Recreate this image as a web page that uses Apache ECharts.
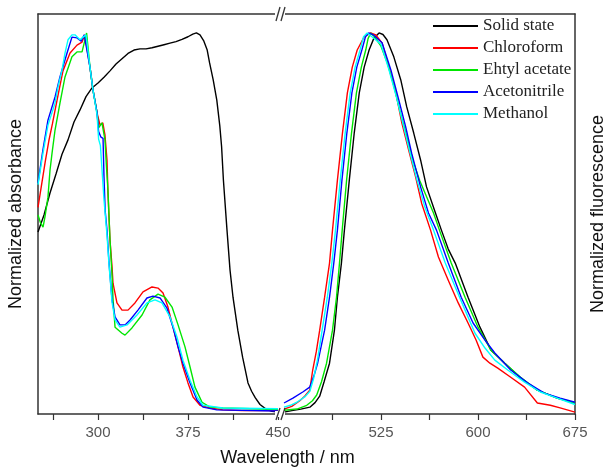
<!DOCTYPE html>
<html><head><meta charset="utf-8">
<script src="https://cdn.jsdelivr.net/npm/echarts@6/dist/echarts.min.js"></script>
<style>html,body{margin:0;padding:0;background:#fff}#c{width:608px;height:468px}</style>
</head><body><div id="c"></div>
<script>
const seriesNames = ['Solid state','Chloroform','Ehtyl acetate','Acetonitrile','Methanol'];
const seriesColors = ['#000000','#ff0000','#00e600','#0000ff','#00ffff'];
const absTicks = [262.5,300,337.5,375,412.5,450];
const absLabels = [300,375,450];
const flTicks = [487.5,525,562.5,600,637.5,675];
const flLabels = [525,600,675];

const solidAbs = [[250,0.475],[255,0.52],[260,0.578],[265,0.628],[270,0.68],[275,0.718],[280,0.765],[285,0.797],[290,0.832],[295,0.855],[300,0.868],[305,0.883],[310,0.9],[315,0.918],[320,0.932],[325,0.946],[330,0.955],[335,0.958],[340,0.958],[345,0.961],[350,0.965],[355,0.969],[360,0.973],[365,0.977],[370,0.983],[375,0.99],[379,0.997],[382,1.0],[385,0.995],[388,0.98],[391,0.955],[393,0.921],[396,0.876],[399,0.823],[401.5,0.755],[403,0.70],[404.5,0.612],[407.5,0.48],[410,0.375],[412.5,0.303],[416.5,0.216],[420.5,0.145],[425,0.077],[428,0.055],[431,0.038],[435,0.02],[440,0.008],[445,0.002],[450,0.0]];
const redAbs = [[250,0.54],[253,0.6],[256,0.66],[259,0.715],[262,0.76],[266,0.825],[270.8,0.9],[276.7,0.947],[282.5,0.968],[286.7,0.976],[289,0.995],[290,1.0],[293.3,0.91],[295.8,0.85],[299.2,0.789],[301.7,0.757],[304,0.763],[305.8,0.731],[307.5,0.665],[308.3,0.578],[310,0.454],[311.7,0.383],[312.5,0.34],[315.8,0.288],[320,0.269],[325,0.269],[330.8,0.288],[337.5,0.317],[345,0.33],[350,0.327],[354.2,0.314],[358.3,0.277],[362.5,0.224],[366.7,0.172],[370.8,0.119],[375,0.077],[379.2,0.04],[385,0.018],[393,0.011],[404,0.006],[420,0.004],[450,0.004]];
const greenAbs = [[250,0.52],[252,0.5],[254.2,0.488],[255.8,0.515],[258.3,0.567],[260,0.638],[261.7,0.683],[264.2,0.744],[268.3,0.815],[272.5,0.884],[278.3,0.937],[282.5,0.95],[286.7,0.95],[289,0.98],[290.5,1.0],[293.3,0.91],[295.8,0.85],[299.2,0.79],[300.5,0.75],[303.3,0.763],[305.8,0.718],[307,0.65],[308.3,0.586],[310,0.454],[311.7,0.36],[312.5,0.3],[314.2,0.224],[320,0.208],[322.5,0.203],[328.3,0.222],[336.7,0.256],[343.3,0.296],[350,0.311],[355.8,0.303],[361.7,0.277],[366.7,0.23],[372.5,0.172],[376.7,0.119],[380.8,0.066],[386.7,0.026],[393.3,0.013],[404,0.011],[450,0.007]];
const blueAbs = [[250,0.604],[254,0.69],[258.3,0.77],[264.2,0.831],[268.3,0.884],[274.2,0.947],[278.3,0.989],[282.5,0.987],[286,0.978],[288.5,0.995],[290,1.0],[293.3,0.91],[295.8,0.85],[299.2,0.79],[300.5,0.74],[302.5,0.725],[304.2,0.722],[305,0.62],[306,0.53],[307.5,0.48],[309.2,0.393],[311.7,0.296],[314.2,0.251],[318.3,0.23],[322.5,0.23],[326.7,0.243],[333.3,0.269],[340.8,0.301],[345.8,0.306],[351.7,0.301],[357.5,0.274],[362.5,0.224],[366.7,0.172],[370.8,0.129],[376.7,0.077],[382.5,0.032],[387.5,0.013],[399,0.006],[450,0.003]];
const cyanAbs = [[250,0.6],[254,0.68],[258.3,0.757],[264.2,0.815],[266.7,0.858],[270,0.902],[272.5,0.947],[275,0.982],[278.3,0.995],[280.8,0.995],[285,0.982],[287.5,0.989],[290,0.995],[293.3,0.91],[295.8,0.85],[299.2,0.784],[300.5,0.72],[302,0.703],[303.3,0.7],[305,0.56],[307.5,0.467],[309.2,0.388],[311.7,0.29],[314.2,0.243],[318.3,0.224],[324.2,0.23],[332.5,0.256],[340.8,0.288],[347.5,0.296],[353.3,0.288],[360,0.251],[365.8,0.198],[370.8,0.137],[376.7,0.084],[382.5,0.04],[387.5,0.018],[404,0.011],[450,0.009]];

const solidFl = [[450,0.0],[456,0.004],[463,0.008],[470,0.013],[474,0.025],[477.6,0.042],[481,0.08],[485.2,0.129],[489,0.216],[491.3,0.303],[494.4,0.393],[496.7,0.48],[500.5,0.612],[504.3,0.736],[508.2,0.842],[512,0.91],[515.8,0.955],[519.6,0.987],[523.5,1.0],[526.5,0.996],[529.6,0.982],[534.9,0.937],[540.3,0.876],[544.9,0.805],[550.3,0.736],[555.6,0.665],[560.2,0.594],[567.1,0.525],[571.7,0.48],[577,0.43],[582.4,0.393],[592.3,0.303],[601.5,0.224],[609.9,0.164],[620.7,0.129],[632.9,0.09],[645.9,0.058],[661.2,0.037],[675,0.024]];
const redFl = [[450,0.008],[456,0.015],[462.2,0.03],[466,0.042],[469.9,0.058],[472.2,0.111],[475,0.16],[477.6,0.216],[481.4,0.303],[485.2,0.393],[487.5,0.48],[491.3,0.612],[495.2,0.736],[499,0.842],[502.8,0.91],[506.6,0.955],[512,0.99],[517,1.0],[521,0.995],[525.8,0.974],[531.1,0.91],[536.5,0.842],[541.1,0.763],[546.4,0.691],[551.8,0.62],[556.4,0.551],[563.3,0.48],[569.4,0.409],[577,0.348],[584.7,0.288],[592.3,0.235],[598.5,0.19],[603.8,0.145],[609.2,0.129],[615.3,0.116],[625.3,0.092],[636,0.066],[645.9,0.024],[655.9,0.018],[663.5,0.011],[675,0.0]];
const greenFl = [[450,0.005],[460,0.008],[467.6,0.018],[472,0.03],[475.3,0.045],[479,0.08],[482.9,0.129],[487.5,0.216],[490.6,0.303],[492.9,0.393],[495,0.48],[498.4,0.612],[502.2,0.736],[506,0.842],[509.8,0.91],[513.2,0.955],[515,0.985],[517,1.0],[520,0.99],[525,0.965],[530,0.92],[535,0.86],[540,0.79],[545,0.725],[550,0.66],[555,0.61],[560,0.57],[565.6,0.525],[570.2,0.48],[579.3,0.393],[590,0.303],[600,0.224],[609.9,0.164],[620.7,0.129],[632.9,0.092],[645.9,0.058],[661.2,0.037],[675,0.024]];
const blueFl = [[450,0.024],[456.9,0.037],[464.5,0.053],[469.9,0.066],[471.4,0.079],[473.5,0.1],[476,0.129],[481.4,0.216],[485.2,0.303],[488.5,0.393],[491.3,0.48],[494.8,0.612],[498.6,0.736],[502.5,0.842],[506.3,0.91],[510.2,0.955],[513,0.99],[515.5,1.0],[519,0.995],[525.8,0.974],[532.7,0.902],[538.8,0.823],[544.1,0.752],[548.7,0.683],[555.6,0.594],[561.7,0.525],[567.9,0.48],[577,0.393],[587,0.303],[596.2,0.235],[605.4,0.19],[613,0.156],[625.3,0.111],[638.3,0.077],[651.3,0.05],[663.5,0.037],[675,0.026]];
const cyanFl = [[450,0.013],[455,0.018],[460,0.026],[466,0.04],[470,0.055],[473,0.09],[476,0.14],[479.5,0.216],[483.5,0.303],[487,0.393],[489.8,0.48],[493.5,0.612],[497.3,0.736],[501.2,0.842],[505,0.91],[508.8,0.955],[511.5,0.99],[514.3,1.0],[518,0.99],[525,0.97],[531,0.905],[537,0.83],[542,0.76],[547,0.69],[553,0.61],[559,0.54],[565.6,0.48],[574.7,0.393],[582.4,0.33],[590,0.269],[597.7,0.208],[605.4,0.169],[613,0.137],[623,0.111],[636,0.079],[648.2,0.053],[661.2,0.037],[675,0.02]];

const absSets = [solidAbs, redAbs, greenAbs, blueAbs, cyanAbs];
const flSets = [solidFl, redFl, greenFl, blueFl, cyanFl];

const axisColor = '#333';
const labelFont = {fontFamily:'Liberation Sans, Arial, sans-serif', fontSize:15, color:'#555'};
const titleFont = {fontFamily:'Liberation Sans, Arial, sans-serif', fontSize:18, color:'#111'};

function bottomAxis(grid, min, max, ticks, labels) {
  return {
    type:'value', gridIndex:grid, min:min, max:max, position:'bottom',
    axisLine:{show:true, onZero:false, lineStyle:{color:axisColor, width:1.5}},
    axisTick:{show:true, inside:false, length:6, customValues:ticks, lineStyle:{color:axisColor, width:1.2}},
    axisLabel:Object.assign({show:true, margin:11, customValues:labels}, labelFont),
    splitLine:{show:false}
  };
}
function topAxis(grid, min, max) {
  return {
    type:'value', gridIndex:grid, min:min, max:max, position:'top',
    axisLine:{show:true, onZero:false, lineStyle:{color:axisColor, width:1.5}},
    axisTick:{show:false}, axisLabel:{show:false}, splitLine:{show:false}
  };
}
function sideAxis(grid, pos, name, gap) {
  return {
    type:'value', gridIndex:grid, min:-0.005, max:1.05, position:pos,
    axisLine:{show:true, onZero:false, lineStyle:{color:axisColor, width:1.5}},
    axisTick:{show:false}, axisLabel:{show:false}, splitLine:{show:false},
    name:name, nameLocation:'middle', nameGap:gap, nameRotate:90,
    nameTextStyle:titleFont
  };
}

const series = [];
seriesNames.forEach((n, i) => {
  series.push({type:'line', name:n, xAxisIndex:0, yAxisIndex:0, data:absSets[i], symbol:'none',
    color:seriesColors[i], lineStyle:{width:1.4, color:seriesColors[i]}, z:2+i});
  series.push({type:'line', name:n, xAxisIndex:1, yAxisIndex:1, data:flSets[i], symbol:'none',
    color:seriesColors[i], lineStyle:{width:1.4, color:seriesColors[i]}, z:2+i});
});

const option = {
  animation:false,
  backgroundColor:'#fff',
  grid:[
    {left:38, top:14, width:240, height:400},
    {left:284, top:14, right:30, height:400}
  ],
  xAxis:[
    bottomAxis(0, 250, 450, absTicks, absLabels),
    bottomAxis(1, 450, 675, flTicks, flLabels),
    topAxis(0, 250, 450),
    topAxis(1, 450, 675)
  ],
  yAxis:[
    sideAxis(0, 'left', 'Normalized absorbance', 13),
    sideAxis(1, 'right', 'Normalized fluorescence', 14)
  ],
  legend:{
    data:seriesNames, orient:'vertical', left:433, top:15, padding:0,
    itemWidth:45, itemHeight:2, itemGap:0, icon:'rect', selectedMode:false,
    textStyle:{fontFamily:'Liberation Serif, Times New Roman, serif', fontSize:17, color:'#222', lineHeight:22}
  },
  series:series
};

const chart = echarts.init(document.getElementById('c'));
chart.setOption(option);

const xa = chart.convertToPixel({xAxisIndex:0}, 450);
const xb = chart.convertToPixel({xAxisIndex:1}, 450);
const yb = chart.convertToPixel({yAxisIndex:0}, -0.005);
const yt = chart.convertToPixel({yAxisIndex:0}, 1.05);
const mid = (xa + xb) / 2;
function breakMarks(y, h) {
  return [
    {type:'rect', shape:{x:mid-6, y:y-3, width:10, height:6}, style:{fill:'#fff'}, z:100},
    {type:'line', shape:{x1:mid-5, y1:y+h, x2:mid-1, y2:y-h}, style:{stroke:'#333', lineWidth:1.3}, z:101},
    {type:'line', shape:{x1:mid, y1:y+h, x2:mid+4, y2:y-h}, style:{stroke:'#333', lineWidth:1.3}, z:101}
  ];
}
chart.setOption({
  graphic:[].concat(breakMarks(yb, 6), breakMarks(yt, 7), [
    {type:'text', x:(chart.convertToPixel({xAxisIndex:0},250)+chart.convertToPixel({xAxisIndex:1},675))/2 - 19, y:458,
     style:{text:'Wavelength / nm', fill:'#111', font:'18px "Liberation Sans", Arial, sans-serif', textAlign:'center', textVerticalAlign:'middle'}, z:100}
  ])
});
</script>
</body></html>
